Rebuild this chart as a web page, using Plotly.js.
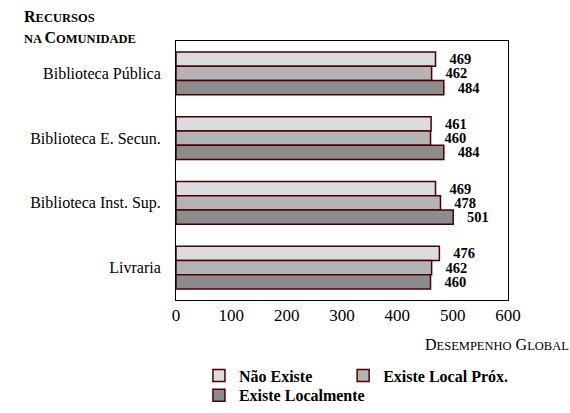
<!DOCTYPE html>
<html>
<head>
<meta charset="utf-8">
<script src="https://cdn.plot.ly/plotly-3.0.1.min.js"></script>
<style>html,body{margin:0;padding:0;background:#fff;}</style>
</head>
<body>
<div id="chart" style="width:570px;height:413px;"></div>
<script>
const categories = ["Biblioteca Pública", "Biblioteca E. Secun.", "Biblioteca Inst. Sup.", "Livraria"];
const naoExiste = [469, 461, 469, 476];
const existeLocalProx = [462, 460, 478, 462];
const existeLocalmente = [484, 484, 501, 460];
const seriesNames = ["Não Existe", "Existe Local Próx.", "Existe Localmente"];
const seriesColors = ["#dcdcdc", "#b4b4b4", "#8c8c8c"];
const tickVals = [0, 100, 200, 300, 400, 500, 600];

const serif = "Liberation Serif";
const allSeries = [naoExiste, existeLocalProx, existeLocalmente];
const legendIds = ["legend", "legend2", "legend3"];
const traces = allSeries.map((vals, i) => ({
  type: "bar",
  orientation: "h",
  name: seriesNames[i],
  legend: legendIds[i],
  y: categories,
  x: vals,
  texttemplate: "\u00a0\u00a0\u00a0%{x}",
  textposition: "outside",
  constraintext: "none",
  cliponaxis: false,
  textfont: {family: serif, size: 14.5, color: "#000", weight: "bold"},
  marker: {color: seriesColors[i], line: {color: "#4a0000", width: 1.5}},
  hoverinfo: "x+y"
}));

const legendBase = {
  orientation: "v", xref: "container", yref: "container",
  xanchor: "left", yanchor: "top", bgcolor: "rgba(0,0,0,0)",
  font: {family: serif, size: 16, weight: "bold"}
};

const layout = {
  width: 570, height: 413,
  margin: {l: 176, r: 62, t: 41, b: 113, autoexpand: false},
  paper_bgcolor: "#fff", plot_bgcolor: "#fff",
  font: {family: serif, size: 16, color: "#000"},
  barmode: "group",
  bargap: 0.34,
  bargroupgap: 0,
  showlegend: true,
  xaxis: {
    range: [0, 600], tickvals: tickVals, ticks: "", showgrid: false, zeroline: false,
    showline: true, linecolor: "#000", linewidth: 1, mirror: true, automargin: false,
    tickfont: {family: serif, size: 17}, fixedrange: true
  },
  yaxis: {
    categoryorder: "array", categoryarray: categories, autorange: "reversed",
    ticks: "", showgrid: false, zeroline: false, automargin: false,
    showline: true, linecolor: "#000", linewidth: 1, mirror: true,
    tickfont: {family: serif, size: 16}, ticklabelstandoff: 11, fixedrange: true
  },
  legend: Object.assign({}, legendBase, {x: 0.349, y: 0.132}),
  legend2: Object.assign({}, legendBase, {x: 0.602, y: 0.132}),
  legend3: Object.assign({}, legendBase, {x: 0.349, y: 0.084}),
  annotations: [
    {xref: "paper", yref: "paper", x: -0.463, y: 1.093, xanchor: "left", yanchor: "middle", showarrow: false,
     text: "<b>R<span style='font-size:12.5px'>ECURSOS</span></b>", font: {family: serif, size: 16}},
    {xref: "paper", yref: "paper", x: -0.463, y: 1.012, xanchor: "left", yanchor: "middle", showarrow: false,
     text: "<b><span style='font-size:12.5px'>NA </span>C<span style='font-size:12.5px'>OMUNIDADE</span></b>", font: {family: serif, size: 16}},
    {xref: "paper", yref: "paper", x: 1.19, y: -0.17, xanchor: "right", yanchor: "middle", showarrow: false,
     text: "D<span style='font-size:12.5px'>ESEMPENHO</span> G<span style='font-size:12.5px'>LOBAL</span>", font: {family: serif, size: 16}}
  ]
};

Plotly.newPlot("chart", traces, layout, {displayModeBar: false, staticPlot: true});
</script>
</body>
</html>
